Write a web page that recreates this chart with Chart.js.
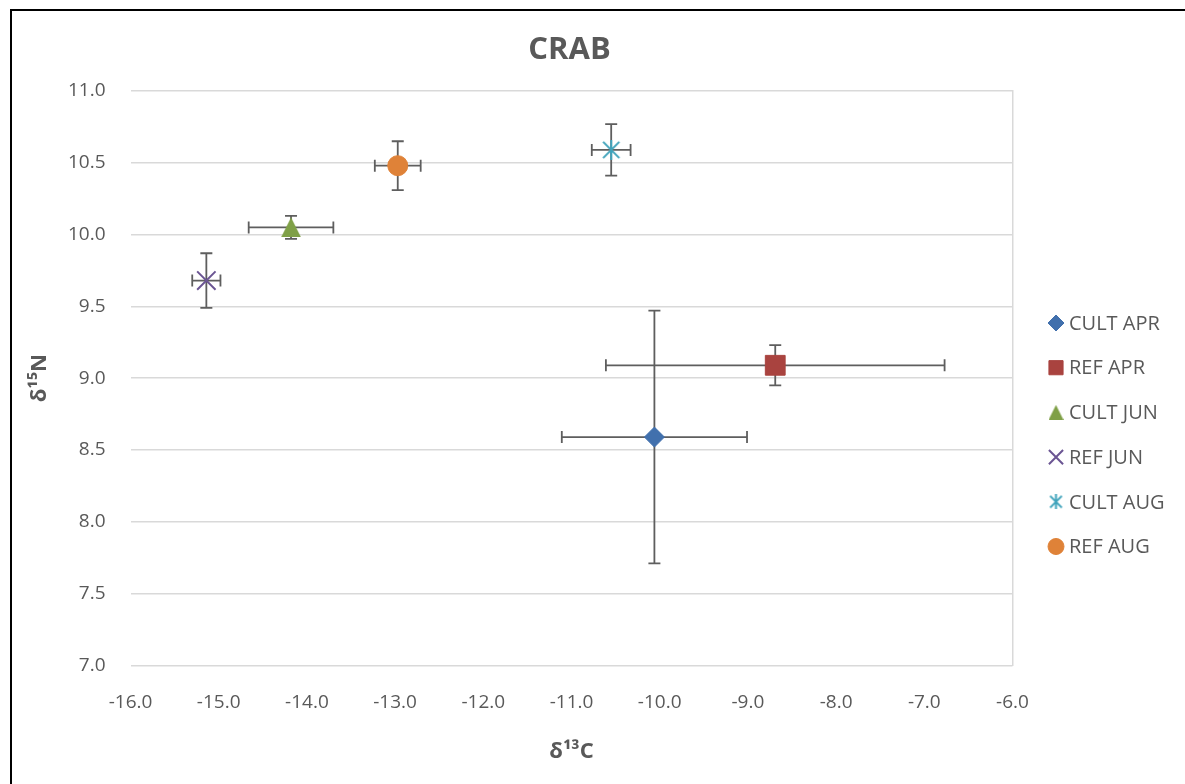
<!DOCTYPE html>
<html>
<head>
<meta charset="utf-8">
<title>CRAB</title>
<script src="https://cdn.jsdelivr.net/npm/chart.js@4.4.0/dist/chart.umd.min.js"></script>
<style>
  html, body { margin: 0; padding: 0; background: #fff; overflow: hidden; }
  #wrap { position: relative; width: 1185px; height: 784px; }
  #chart { position: absolute; left: 0; top: 0; }
  #frame {
    position: absolute; left: 10px; top: 9px; width: 1300px; height: 900px;
    border-left: 2px solid #000; border-top: 2px solid #000; pointer-events: none;
  }
</style>
</head>
<body>
<div id="wrap">
  <canvas id="chart" width="1185" height="784"></canvas>
  <div id="frame"></div>
</div>
<script>
// Group means (per mil) and standard deviations
const groups = ['CULT APR', 'REF APR', 'CULT JUN', 'REF JUN', 'CULT AUG', 'REF AUG'];
const d13C = [-10.06, -8.69, -14.18, -15.14, -10.55, -12.97];
const d15N = [8.59, 9.09, 10.05, 9.68, 10.59, 10.48];
const sdC = [1.05, 1.92, 0.48, 0.16, 0.22, 0.26];
const sdN = [0.88, 0.14, 0.08, 0.19, 0.18, 0.17];

const colors = ['#4170AD', '#A9433F', '#7FA047', '#6B5593', '#3FA3BB', '#DF8238'];
const textColor = '#595959';
const fontFamily = '"Open Sans", "Noto Sans", sans-serif';

// Small canvases for the markers Chart.js has no built-in shape for
function triangleMarker(color, size) {
    const c = document.createElement('canvas');
    c.width = size; c.height = size;
    const g = c.getContext('2d');
    g.fillStyle = color;
    g.beginPath();
    g.moveTo(size / 2, 0);
    g.lineTo(size, size);
    g.lineTo(0, size);
    g.closePath();
    g.fill();
    return c;
}

function starMarker(color, size) {
    const c = document.createElement('canvas');
    c.width = size; c.height = size;
    const g = c.getContext('2d');
    g.strokeStyle = color;
    g.lineWidth = 2;
    g.lineCap = 'butt';
    const m = size / 2, d = size / 2 - 1;
    g.beginPath();
    g.moveTo(m - d * 0.9, m - d * 0.9); g.lineTo(m + d * 0.9, m + d * 0.9);
    g.moveTo(m + d * 0.9, m - d * 0.9); g.lineTo(m - d * 0.9, m + d * 0.9);
    g.moveTo(m, 0); g.lineTo(m, size);
    g.stroke();
    return c;
}

const pointStyles = ['rectRot', 'rect', triangleMarker(colors[2], 20), 'crossRot', starMarker(colors[4], 20), 'circle'];
const legendStyles = ['rectRot', 'rect', triangleMarker(colors[2], 15), 'crossRot', starMarker(colors[4], 15), 'circle'];
const radii = [10, 14, 11, 13, 10, 10];
const legendRadii = [8, 10, 8, 10, 8, 8];

// Horizontal and vertical error bars, drawn under the markers
const errorBars = {
    id: 'errorBars',
    beforeDatasetsDraw(chart) {
        const { ctx, scales: { x, y } } = chart;
        const cap = 6;
        ctx.save();
        ctx.strokeStyle = '#5E5E5E';
        ctx.lineWidth = 1.8;
        groups.forEach((g, i) => {
            const px = x.getPixelForValue(d13C[i]);
            const py = y.getPixelForValue(d15N[i]);
            const x0 = x.getPixelForValue(d13C[i] - sdC[i]);
            const x1 = x.getPixelForValue(d13C[i] + sdC[i]);
            const y0 = y.getPixelForValue(d15N[i] - sdN[i]);
            const y1 = y.getPixelForValue(d15N[i] + sdN[i]);
            ctx.beginPath();
            ctx.moveTo(x0, py); ctx.lineTo(x1, py);
            ctx.moveTo(x0, py - cap); ctx.lineTo(x0, py + cap);
            ctx.moveTo(x1, py - cap); ctx.lineTo(x1, py + cap);
            ctx.moveTo(px, y0); ctx.lineTo(px, y1);
            ctx.moveTo(px - cap, y0); ctx.lineTo(px + cap, y0);
            ctx.moveTo(px - cap, y1); ctx.lineTo(px + cap, y1);
            ctx.stroke();
        });
        ctx.restore();
    }
};

// Legend column to the right of the plot area
const sideLegend = {
    id: 'sideLegend',
    afterDraw(chart) {
        const { ctx, chartArea } = chart;
        ctx.save();
        ctx.font = '20px ' + fontFamily;
        ctx.textBaseline = 'middle';
        ctx.textAlign = 'left';
        chart.data.datasets.forEach((ds, i) => {
            const mx = chartArea.right + 43.5;
            const my = 323 + i * 44.7;
            ctx.fillStyle = colors[i];
            ctx.strokeStyle = colors[i];
            ctx.lineWidth = i === 3 ? 2 : 1;
            Chart.helpers.drawPoint(ctx, {
                pointStyle: legendStyles[i],
                radius: legendRadii[i],
                rotation: 0,
                borderWidth: ctx.lineWidth
            }, mx, my);
            ctx.fillStyle = textColor;
            ctx.fillText(ds.label, mx + 13, my + 1);
        });
        ctx.restore();
    }
};

const ctx = document.getElementById('chart').getContext('2d');
const chart = new Chart(ctx, {
    type: 'scatter',
    data: {
        datasets: groups.map((g, i) => ({
            label: g,
            data: [{ x: d13C[i], y: d15N[i] }],
            pointStyle: pointStyles[i],
            pointRadius: radii[i],
            pointHoverRadius: radii[i],
            backgroundColor: colors[i],
            borderColor: colors[i],
            borderWidth: i === 3 ? 2 : 1
        }))
    },
    options: {
        responsive: false,
        animation: false,
        events: [],
        layout: { padding: { left: 0, right: 46, top: 0, bottom: 0 } },
        plugins: {
            legend: { display: false },
            tooltip: { enabled: false },
            title: {
                display: true,
                text: 'CRAB',
                color: textColor,
                font: { family: fontFamily, size: 31, weight: 'bold' },
                padding: { top: 32, bottom: 21.8 }
            }
        },
        scales: {
            x: {
                type: 'linear',
                min: -16,
                max: -6,
                grid: { display: false },
                border: { display: false },
                ticks: {
                    stepSize: 1,
                    padding: 18,
                    maxRotation: 0,
                    autoSkip: false,
                    color: textColor,
                    font: { family: fontFamily, size: 19 },
                    callback: v => v.toFixed(1)
                },
                title: {
                    display: true,
                    text: 'δ¹³C',
                    color: textColor,
                    font: { family: fontFamily, size: 22, weight: 'bold' },
                    padding: { top: 4, bottom: 19 }
                },
                afterFit(scale) { scale.height = 118.6; }
            },
            y: {
                type: 'linear',
                min: 7,
                max: 11,
                grid: { color: '#D9D9D9', lineWidth: 1.5, drawTicks: false },
                border: { display: false },
                ticks: {
                    stepSize: 0.5,
                    padding: 25,
                    color: textColor,
                    font: { family: fontFamily, size: 19 },
                    callback: v => v.toFixed(1)
                },
                title: {
                    display: true,
                    text: 'δ¹⁵N',
                    color: textColor,
                    font: { family: fontFamily, size: 22, weight: 'bold' },
                    padding: { top: 27, bottom: 4 }
                },
                afterFit(scale) { scale.width = 130.5; }
            },
            edge: {
                type: 'linear',
                position: 'right',
                grid: { drawOnChartArea: false, drawTicks: false },
                border: { color: '#D9D9D9', width: 1.5 },
                ticks: { display: false },
                afterFit(scale) { scale.width = 126.5; }
            }
        }
    },
    plugins: [errorBars, sideLegend]
});
</script>
</body>
</html>
